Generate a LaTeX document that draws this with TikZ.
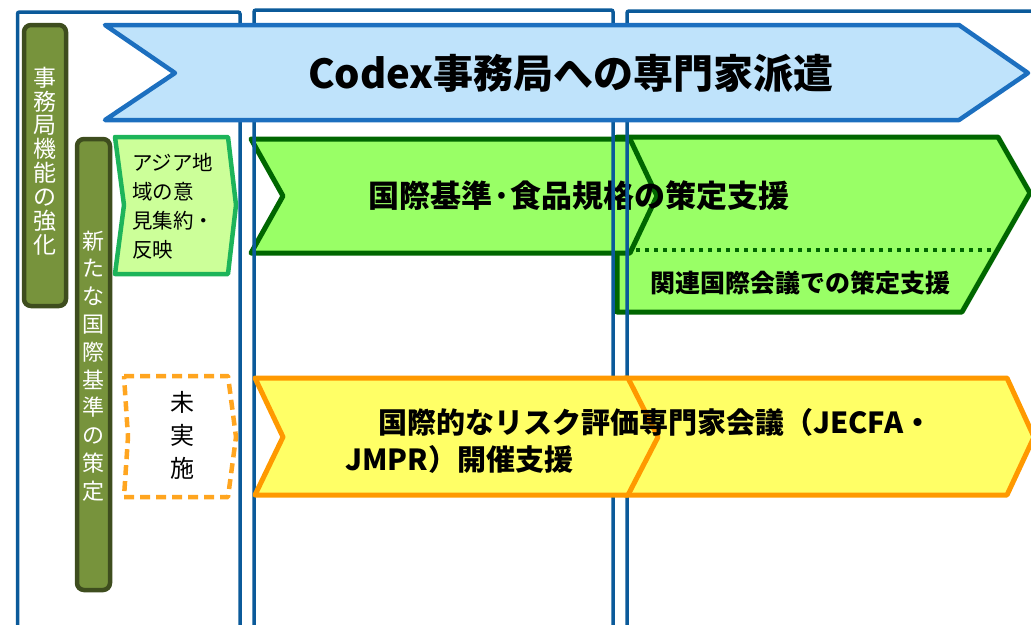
\documentclass[tikz,border=0pt]{standalone}
\usepackage{fontspec}
\setmainfont{Noto Sans CJK JP}
\definecolor{framec}{HTML}{0B5A9A}
\definecolor{titlefill}{HTML}{BFE3FB}
\definecolor{titledraw}{HTML}{1C6FBF}
\definecolor{olivefill}{HTML}{77933C}
\definecolor{olivedraw}{HTML}{3E4D1E}
\definecolor{lightgreen}{HTML}{CCFF99}
\definecolor{lgdraw}{HTML}{1DB45A}
\definecolor{greenfill}{HTML}{99FF66}
\definecolor{greendraw}{HTML}{006600}
\definecolor{yellowfill}{HTML}{FFFF66}
\definecolor{orangedraw}{HTML}{FF9900}
\definecolor{dashorange}{HTML}{FFA51F}
\begin{document}
\begin{tikzpicture}[x=1pt,y=-1pt,
  frameline/.style={draw=framec, line width=3.5pt, rounded corners=2pt},
  olivebar/.style={draw=olivedraw, fill=olivefill, line width=4.5pt, rounded corners=7pt},
  vtext/.style={text=white, align=center, inner sep=0pt},
  greenarrow/.style={draw=greendraw, fill=greenfill, line width=5pt, line join=round},
  yellowarrow/.style={draw=orangedraw, fill=yellowfill, line width=5pt, line join=round},
  lbl/.style={inner sep=0pt, text=black}]
\useasboundingbox (0,0) rectangle (1031,624);
% green shapes (behind frames)
\draw[greenarrow] (617,137) -- (998,137) -- (1030,193) -- (962,312) -- (617,312) -- cycle;
\draw[greenarrow] (251,139) -- (630,139) -- (657,196) -- (630,253) -- (251,253) -- (283,196) -- cycle;
\draw[draw=greendraw, line width=3.5pt, dash pattern=on 4pt off 5pt] (636,250) -- (996,250);
\node[lbl, font=\bfseries\fontsize{31}{36}\selectfont] (std) at (579,196) {国際基準·食品規格の策定支援};
\node[lbl, font=\bfseries\fontsize{25}{30}\selectfont] (rel) at (800,283) {関連国際会議での策定支援};
% frames
\draw[frameline] (17.5,640) -- (17.5,12) -- (240,12) -- (240,640);
\draw[frameline] (254,640) -- (254,10) -- (613,10) -- (613,640);
\draw[frameline] (627,640) -- (627,11) -- (1045,11);
% title arrow
\draw[draw=titledraw, fill=titlefill, line width=4.5pt, line join=round] (105,25) -- (959,25) -- (1028,73) -- (959,120) -- (105,120) -- (175,73) -- cycle;
\node[lbl, font=\bfseries\fontsize{40}{48}\selectfont] (title) at (571,73) {Codex事務局への専門家派遣};
% yellow shapes
\draw[yellowarrow] (625,378) -- (1007,378) -- (1034,437) -- (1007,495) -- (625,495) -- cycle;
\draw[yellowarrow] (255,378) -- (628,378) -- (658,437) -- (628,495) -- (255,495) -- (283,437) -- cycle;
\node[lbl, anchor=west, align=left, font=\bfseries\fontsize{29}{37}\selectfont] (risk) at (345,441) {\hspace*{33pt}国際的なリスク評価専門家会議（JECFA・\\JMPR）開催支援};
% olive bars
\draw[olivebar] (24,25) rectangle (66,306);
\node[vtext, font=\fontsize{23}{23.9}\selectfont] (bar1) at (45,161) {事\\務\\局\\機\\能\\の\\強\\化};
\draw[olivebar] (77,139) rectangle (110,590);
\node[vtext, font=\fontsize{22}{27.8}\selectfont] (bar2) at (93.5,366) {新\\た\\な\\国\\際\\基\\準\\の\\策\\定};
% light green box
\draw[draw=lgdraw, fill=lightgreen, line width=4.5pt, line join=round] (115,137) -- (228,137) -- (236,205) -- (228,274) -- (115,274) -- (124,205) -- cycle;
\node[lbl, anchor=west, align=left, font=\fontsize{20.5}{29}\selectfont] (asia) at (132,206) {アジア地\\域の意\\見集約・\\反映};
% dashed box
\draw[draw=dashorange, fill=white, line width=4.5pt, dash pattern=on 10pt off 6pt, line join=round] (124,376) -- (228,376) -- (236,437) -- (228,497) -- (124,497) -- (128,437) -- cycle;
\node[lbl, align=center, font=\fontsize{24}{33}\selectfont] (notyet) at (182,435) {未\\実\\施};
\end{tikzpicture}
\end{document}
